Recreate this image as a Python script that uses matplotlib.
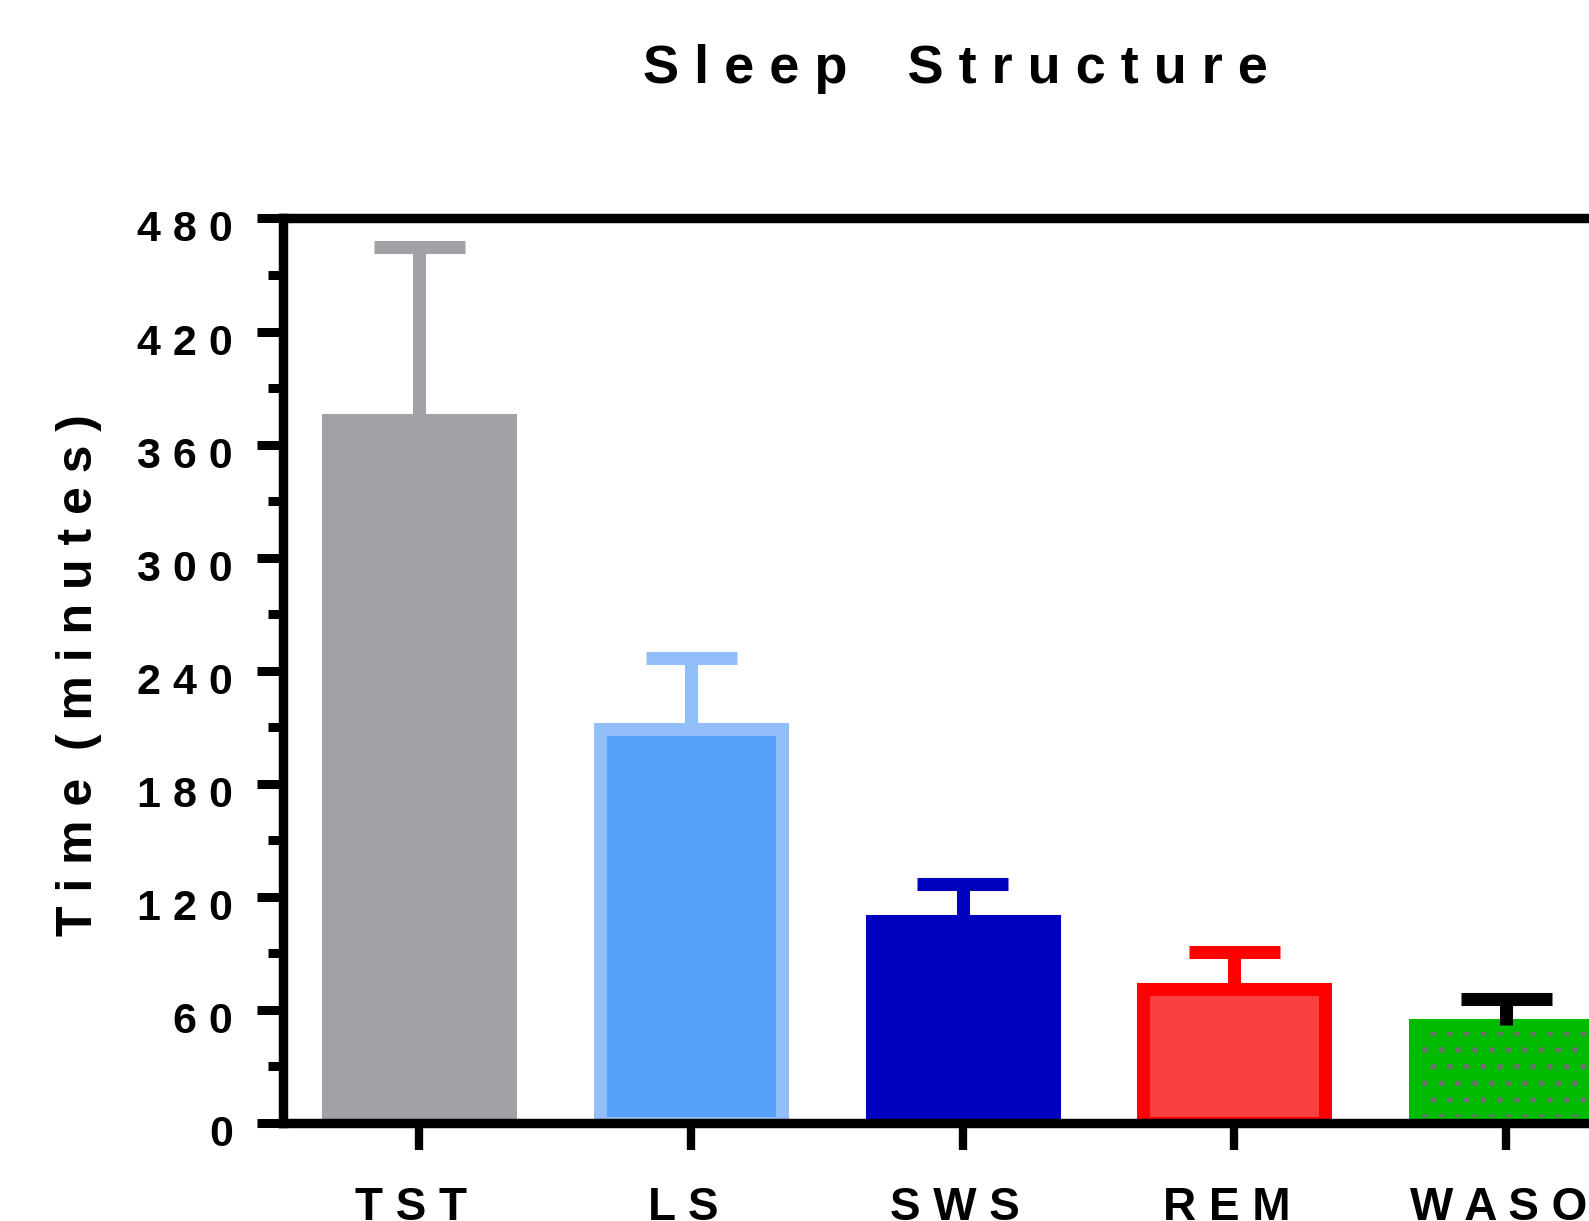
import matplotlib
matplotlib.use("Agg")
import matplotlib.pyplot as plt
from matplotlib.ticker import MultipleLocator
from matplotlib.transforms import ScaledTranslation

# ---- data -------------------------------------------------------------
categories = ["TST", "LS", "SWS", "REM", "WASO"]
means = [373, 209, 107, 71, 52]          # minutes
sd = [92, 38, 20, 20, 14]                # upper error (minutes)
fill_colors = ["#A2A1A6", "#56A1FC", "#0000BF", "#F94141", "#00BB00"]
edge_colors = ["#A2A1A6", "#92BFFA", "#0000BF", "#FF0000", "#00BB00"]
err_colors = ["#A2A1A6", "#92BFFA", "#0000BF", "#FF0000", "#000000"]
hatched = [False, False, False, False, True]
y_ticks = [0, 60, 120, 180, 240, 300, 360, 420, 480]


def spaced(text, gap=" "):
    """Letter-spaced version of a string."""
    return gap.join(text)


def spaced_words(text, word_gap="   "):
    return word_gap.join(spaced(w) for w in text.split())


plt.rcParams["font.family"] = ["Liberation Sans", "DejaVu Sans"]
plt.rcParams["font.weight"] = "bold"
plt.rcParams["hatch.linewidth"] = 1.7

DPI = 100
fig = plt.figure(figsize=(15.89, 12.21), dpi=DPI)
ax = fig.add_axes([0.17841, 0.08026, 0.85494, 0.74079])

LW = 9.4            # bar outline / error bar thickness (pt)
BAR_W = 0.67
CAP_HALF = 0.1675

x = list(range(len(categories)))

# bar fills
ax.bar(x, means, width=BAR_W, color=fill_colors, linewidth=0, zorder=2)
# dotted pattern on hatched bars
hx = [xi for xi, h in zip(x, hatched) if h]
hy = [m for m, h in zip(means, hatched) if h]
ax.bar(hx, hy, width=BAR_W, facecolor="none", edgecolor="#6E6E6E",
       linewidth=0, hatch=".", zorder=2.1)
# bar outlines
ax.bar(x, means, width=BAR_W, facecolor="none", edgecolor=edge_colors,
       linewidth=LW, zorder=2.2)

# upper error bars
upper = [m + s for m, s in zip(means, sd)]
ax.vlines(x, means, upper, colors=err_colors, linewidth=LW, zorder=3)
ax.hlines(upper, [xi - CAP_HALF for xi in x], [xi + CAP_HALF for xi in x],
          colors=err_colors, linewidth=LW, zorder=3)

ax.set_xlim(-0.5, 4.5)
ax.set_ylim(0, 480)

for s in ax.spines.values():
    s.set_linewidth(6.8)
    s.set_color("black")
    s.set_zorder(4)

ax.set_yticks(y_ticks, [spaced(str(v)) for v in y_ticks])
ax.yaxis.set_minor_locator(MultipleLocator(30))
ax.set_xticks(x, [spaced(c) for c in categories])

ax.tick_params(axis="y", which="major", direction="out", length=19,
               width=6.5, pad=17.3, labelsize=31, color="black")
ax.tick_params(axis="y", which="minor", direction="out", length=11,
               width=6.5, color="black")
ax.tick_params(axis="x", which="major", direction="out", length=19.5,
               width=6.0, pad=50.4, labelsize=33, color="black")
ax.tick_params(axis="x", which="minor", length=0)

y_shift = ScaledTranslation(0, -23 / DPI, fig.dpi_scale_trans)
for lab in ax.get_yticklabels():
    lab.set_va("baseline")
    lab.set_transform(lab.get_transform() + y_shift)
    lab.set_fontweight("bold")

x_shift = ScaledTranslation(-8 / DPI, 0, fig.dpi_scale_trans)
for lab in ax.get_xticklabels():
    lab.set_va("baseline")
    lab.set_transform(lab.get_transform() + x_shift)
    lab.set_fontweight("bold")

ax.set_ylabel(spaced_words("Time (minutes)", "  "),
              fontsize=36, fontweight="bold", va="center")
ax.yaxis.set_label_coords(-0.15017, 0.4953)

ax.set_title(spaced_words("Sleep Structure", "    "), fontsize=39,
             fontweight="bold", x=0.4943, y=1.1495, va="baseline", pad=0)

fig.savefig("out.png", dpi=DPI, facecolor="white")
